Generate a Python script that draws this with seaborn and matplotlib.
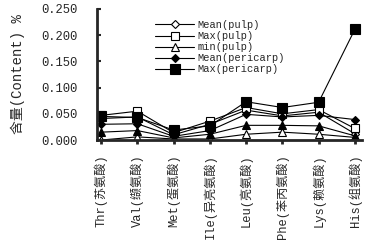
import numpy as np
import pandas as pd
import matplotlib
matplotlib.use("Agg")
import matplotlib.pyplot as plt
import seaborn as sns

# Данные (читаем с картинки)
amino = ['Thr(苏氨酸)', 'Val(缬氨酸)', 'Met(蛋氨酸)', 'Ile(异亮氨酸)',
         'Leu(亮氨酸)', 'Phe(苯丙氨酸)', 'Lys(赖氨酸)', 'His(组氨酸)']
mean_pulp = [0.041, 0.044, 0.010, 0.030, 0.057, 0.046, 0.053, 0.012]
max_pulp = [0.047, 0.055, 0.014, 0.036, 0.062, 0.050, 0.058, 0.022]
min_pulp = [0.000, 0.006, 0.002, 0.002, 0.011, 0.015, 0.011, 0.005]
mean_peri = [0.030, 0.031, 0.007, 0.018, 0.049, 0.044, 0.047, 0.039]
max_peri = [0.045, 0.043, 0.019, 0.027, 0.073, 0.062, 0.072, 0.211]
min_peri = [0.015, 0.018, 0.004, 0.011, 0.028, 0.028, 0.027, 0.008]
yticks = [0.0, 0.05, 0.10, 0.15, 0.20, 0.25]

sns.set_style("ticks")
fam = ['Liberation Mono', 'Noto Sans CJK SC', 'DejaVu Sans']
plt.rcParams['font.family'] = fam

fig = plt.figure(figsize=(3.68, 2.41), dpi=100)
ax = fig.add_axes([0.264, 0.419, 0.72, 0.544])

pos = np.arange(len(amino))
series = [
    ('Mean(pulp)', mean_pulp, 'D', 'white', 4.5),
    ('Max(pulp)', max_pulp, 's', 'white', 6),
    ('min(pulp)', min_pulp, '^', 'white', 6),
    ('Mean(pericarp)', mean_peri, 'D', 'black', 4.5),
    ('Max(pericarp)', max_peri, 's', 'black', 6.5),
    ('min(pericarp)', min_peri, '^', 'black', 6),
]
for name, vals, mk, fc, ms in series:
    df = pd.DataFrame({'x': pos, 'y': vals})
    lbl = name if name != 'min(pericarp)' else '_nolegend_'
    sns.lineplot(data=df, x='x', y='y', ax=ax, color='black', lw=0.8,
                 marker=mk, markersize=ms, markerfacecolor=fc,
                 markeredgecolor='black', markeredgewidth=0.8, label=lbl)

ax.set_xlim(-0.11, 7.2)
ax.set_ylim(0, 0.25)
ax.set_yticks(yticks)
ax.set_yticklabels([f'{t:.3f}' for t in yticks], fontsize=8.7)
ax.set_xticks(pos)
ax.set_xticklabels(amino, rotation=90, fontsize=8.7)
ax.tick_params(axis='y', direction='in', length=3, width=1.5, pad=14)
ax.tick_params(axis='x', direction='out', length=3, width=2, pad=7)
ax.set_xlabel('')
ax.set_ylabel('含量(Content) %', fontsize=10, labelpad=12)
for s in ['top', 'right']:
    ax.spines[s].set_visible(False)
ax.spines['left'].set_linewidth(2)
ax.spines['bottom'].set_linewidth(2)

ax.legend(loc='upper left', bbox_to_anchor=(0.19, 0.97), frameon=False,
          fontsize=7.5, handlelength=3.8, labelspacing=0.1, handletextpad=0.3,
          borderpad=0.2)

plt.savefig('out.png', dpi=100)
